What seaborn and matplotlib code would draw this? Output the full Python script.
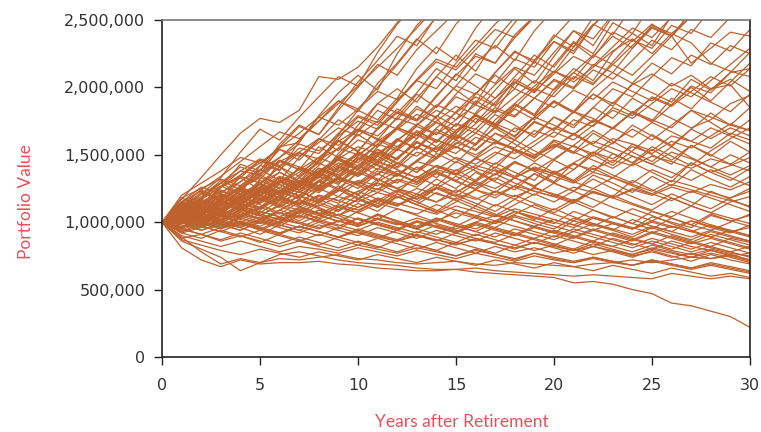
import pandas as pd
import matplotlib
matplotlib.use('Agg')
import matplotlib.pyplot as plt
import seaborn as sns
from matplotlib.ticker import FuncFormatter

# simulated portfolio paths, values in thousands, years 0..30
years = list(range(31))

path_01 = [1000,1170,1330,1500,1660,1770,1740,1830,2080,2060,2150,2300,2480,2650,2800,2950,3100,3200,3300,3400,3500,3600,3700,3800,3900,4000,4100,4200,4300,4400,4500]
path_02 = [1000,1090,1210,1330,1520,1690,1610,1780,1930,2080,2010,2260,2470,2620,2780,2900,3050,3100,3250,3400,3500,3650,3700,3850,4000,4100,4250,4300,4450,4600,4700]
path_03 = [1000,1150,1080,1260,1380,1350,1560,1590,1790,1960,2090,1980,2250,2460,2610,2750,2900,3000,3150,3300,3400,3500,3650,3800,3900,4000,4100,4200,4300,4400,4500]
path_04 = [1000,1060,1180,1290,1210,1420,1560,1710,1650,1850,2040,2200,2380,2310,2530,2650,2800,2950,3100,3200,3300,3450,3550,3700,3800,3900,4000,4100,4200,4300,4400]
path_05 = [1000,1120,1240,1160,1350,1460,1380,1600,1780,1900,1820,2030,2180,2360,2250,2470,2620,2700,2800,2950,3050,3200,3300,3400,3500,3600,3700,3800,3900,4000,4100]
path_06 = [1000,1040,1130,1260,1330,1240,1450,1520,1430,1650,1830,1760,1920,2140,2300,2200,2440,2620,2700,2850,2950,3050,3150,3250,3350,3450,3550,3650,3750,3850,3950]
path_07 = [1000,1080,990,1150,1270,1390,1310,1480,1620,1530,1720,1880,1990,1890,2080,2240,2120,2350,2520,2630,2750,2850,2950,3050,3150,3250,3350,3450,3550,3650,3750]
path_08 = [1000,1030,1110,1050,1190,1280,1410,1340,1450,1600,1690,1610,1780,1950,1850,2010,2180,2310,2200,2420,2580,2700,2800,2900,3000,3100,3200,3300,3400,3500,3600]
path_09 = [1000,1100,1180,1310,1240,1380,1540,1460,1610,1760,1680,1880,1810,1960,2140,2050,2250,2180,2390,2530,2660,2800,2900,3000,3100,3200,3300,3400,3500,3600,3700]
path_10 = [1000,960,1060,1150,1080,1220,1330,1260,1400,1340,1490,1610,1540,1720,1830,1760,1950,2090,1990,2200,2340,2250,2460,2620,2750,2900,3000,3100,3200,3300,3400]
path_11 = [1000,1070,1020,1120,1230,1160,1290,1400,1330,1470,1390,1560,1690,1620,1790,1710,1900,1820,2030,2190,2110,2300,2470,2390,2600,2720,2850,2950,3050,3150,3250]
path_12 = [1000,1050,1160,1080,1180,1290,1210,1330,1440,1370,1520,1450,1600,1730,1650,1820,1960,1870,2060,1980,2170,2340,2250,2480,2400,2620,2750,2850,2950,3050,3150]
path_13 = [1000,1020,970,1080,1170,1110,1230,1170,1310,1250,1370,1490,1410,1560,1480,1650,1580,1760,1880,1800,1990,2140,2050,2260,2400,2310,2530,2650,2800,2950,3050]
path_14 = [1000,1130,1060,1210,1150,1320,1460,1390,1560,1480,1670,1830,1760,1920,2080,1980,1880,2110,2270,2180,2390,2300,2520,2650,2800,2900,3000,3100,3200,3300,3400]
path_15 = [1000,1060,1140,1240,1170,1310,1250,1410,1330,1510,1650,1560,1710,1860,1770,1620,1810,1980,2140,2030,2230,2420,2310,2530,2660,2800,2900,3000,3100,3200,3300]
path_16 = [1000,1180,1120,1260,1430,1380,1580,1720,1650,1830,2000,2170,2090,2280,2420,2560,2700,2800,2900,3000,3100,3200,3300,3400,3500,3600,3700,3800,3900,4000,4100]
path_17 = [1000,1090,1040,1190,1120,1260,1370,1300,1460,1610,1520,1700,1840,1760,1930,2100,2010,1920,2080,2240,2150,2330,2220,2410,2340,2470,2380,2560,2680,2800,2900]
path_18 = [1000,1020,1100,1190,1130,1240,1180,1310,1260,1400,1520,1460,1610,1550,1700,1810,1740,1890,2040,1960,2120,2060,2230,2380,2290,2460,2400,2520,2650,2750,2850]
path_19 = [1000,1050,1120,1060,1170,1280,1210,1330,1270,1410,1350,1490,1620,1540,1690,1620,1770,1700,1870,1790,1960,2110,2030,2170,2090,2230,2380,2180,2290,2410,2380]
path_20 = [1000,1010,1080,1170,1100,1200,1310,1240,1340,1280,1420,1540,1470,1590,1520,1680,1800,1720,1630,1780,1900,1820,1990,2110,2030,2180,2100,2240,2170,2310,2250]
path_21 = [1000,1080,1030,1130,1240,1170,1280,1220,1360,1480,1400,1540,1460,1620,1740,1660,1800,1730,1880,2010,2120,2040,2150,2270,2360,2250,2400,2330,2180,2120,2080]
path_22 = [1000,990,1070,1020,1120,1230,1160,1260,1370,1300,1420,1350,1480,1600,1520,1640,1570,1710,1640,1780,1900,1820,1950,1860,2030,1960,1890,2060,1980,2110,2140]
path_23 = [1000,1040,990,1090,1040,1150,1260,1190,1300,1240,1370,1310,1440,1370,1510,1440,1580,1700,1610,1750,1680,1820,1740,1890,1810,1750,1920,1840,1990,2060,1970]
path_24 = [1000,1100,1220,1160,1260,1200,1330,1270,1400,1330,1470,1390,1540,1680,1590,1730,1660,1800,1720,1630,1780,1700,1850,1770,1920,1840,1770,1700,1760,1880,1940]
path_25 = [1000,1030,1120,1190,1130,1230,1300,1240,1350,1420,1510,1440,1560,1650,1560,1680,1790,1710,1840,1760,1890,1810,1950,1880,2020,2100,2010,2090,1990,2020,1850]
path_26 = [1000,1030,1090,1040,1140,1090,1190,1140,1250,1190,1300,1240,1360,1300,1420,1350,1480,1400,1540,1470,1600,1520,1660,1580,1720,1640,1560,1690,1620,1700,1640]
path_27 = [1000,950,1040,990,1080,1170,1110,1200,1140,1240,1170,1290,1220,1340,1270,1390,1310,1440,1370,1310,1460,1390,1520,1440,1580,1500,1430,1570,1500,1430,1520]
path_28 = [1000,1070,1010,1090,1170,1100,1200,1130,1250,1320,1250,1360,1290,1410,1330,1450,1380,1310,1450,1380,1300,1440,1370,1510,1440,1370,1300,1440,1370,1420,1480]
path_29 = [1000,1020,1090,1160,1100,1190,1130,1230,1160,1270,1200,1320,1250,1210,1320,1250,1370,1300,1240,1360,1290,1230,1350,1290,1220,1340,1270,1390,1320,1260,1340]
path_30 = [1000,1120,1070,1160,1250,1190,1300,1240,1360,1460,1390,1510,1430,1560,1480,1610,1530,1660,1580,1500,1560,1650,1570,1510,1440,1560,1490,1420,1530,1620,1700]
path_31 = [1000,940,1010,970,1050,1000,1090,1040,1130,1080,1170,1110,1210,1150,1250,1190,1290,1220,1330,1260,1380,1310,1420,1350,1290,1390,1330,1440,1370,1310,1400]
path_32 = [1000,1050,1000,960,1040,1110,1060,1150,1100,1050,1140,1080,1190,1130,1080,1180,1120,1230,1170,1260,1200,1150,1250,1190,1310,1240,1180,1120,1230,1170,1110]
path_33 = [1000,1080,1160,1100,1190,1140,1230,1310,1250,1340,1270,1220,1310,1260,1370,1300,1250,1360,1290,1230,1190,1140,1230,1180,1130,1080,1040,1120,1070,1030,990]
path_34 = [1000,1000,1070,1020,1100,1050,1000,1080,1030,1120,1070,1020,1100,1050,1000,1090,1040,1130,1080,1030,990,1080,1030,990,950,1040,1000,960,1050,1010,970]
path_35 = [1000,1130,1070,1010,1090,1180,1120,1060,1150,1250,1180,1120,1210,1150,1090,1030,1120,1060,1010,960,920,1010,970,1040,990,950,1030,980,940,1000,1060]
path_36 = [1000,960,1030,990,940,1010,970,1050,1000,950,1030,980,940,1010,970,920,1000,960,1040,990,950,1030,980,940,1020,970,930,1010,960,920,980]
path_37 = [1000,1040,1110,1190,1260,1200,1140,1230,1170,1110,1200,1140,1230,1170,1260,1200,1140,1080,1170,1110,1060,1010,1090,1040,990,1080,1030,980,1060,1010,1050]
path_38 = [1000,1060,1130,1200,1140,1220,1300,1240,1330,1410,1340,1430,1360,1290,1380,1310,1240,1330,1260,1200,1290,1230,1320,1250,1190,1130,1210,1150,1100,1180,1230]
path_39 = [1000,1010,980,1050,1120,1070,1160,1110,1190,1140,1230,1170,1120,1210,1150,1240,1180,1120,1200,1140,1090,1170,1110,1200,1140,1090,1180,1120,1070,1150,1190]
path_40 = [1000,980,940,1000,960,910,980,940,900,960,920,880,940,900,860,920,880,850,910,870,830,890,850,820,870,840,800,850,810,780,820]
path_41 = [1000,1010,970,930,990,950,910,970,930,890,950,910,870,930,890,850,910,870,830,880,840,800,860,820,780,830,790,760,800,770,750]
path_42 = [1000,920,880,940,900,850,910,870,830,890,850,810,870,830,790,850,810,770,830,790,830,790,840,800,760,810,780,740,790,760,720]
path_43 = [1000,1060,1020,980,940,1000,960,920,980,940,900,960,920,880,940,900,860,920,880,840,900,860,820,880,840,800,860,820,790,750,710]
path_44 = [1000,900,860,820,860,820,780,820,800,770,810,780,750,790,760,730,770,740,710,750,720,700,730,700,680,720,690,660,690,660,630]
path_45 = [1000,870,830,790,760,800,770,740,780,750,720,760,730,700,740,710,680,720,690,660,700,670,640,680,650,620,660,630,600,620,590]
path_46 = [1000,950,910,870,920,880,840,890,850,810,860,820,780,830,790,750,800,760,720,770,730,700,740,710,680,720,690,660,700,670,640]
path_47 = [1000,1030,990,950,1000,960,920,970,930,890,940,900,860,910,870,830,880,840,800,850,810,770,820,780,740,790,750,710,760,720,690]
path_48 = [1000,1090,1050,1010,1070,1030,990,1050,1010,970,1030,990,950,1010,970,930,990,950,910,970,930,890,950,910,870,930,890,850,910,870,830]
path_49 = [1000,1000,960,1020,980,1040,1000,960,1020,980,940,1000,960,920,980,940,900,960,920,880,940,900,860,920,880,840,900,860,820,880,850]
path_50 = [1000,810,720,670,720,690,700,700,710,690,680,660,650,640,640,650,630,620,610,600,590,550,560,540,500,470,400,380,340,300,220]
path_51 = [1000,860,800,740,640,700,760,780,750,720,700,690,680,660,650,650,660,640,630,620,610,600,610,600,590,580,620,600,580,600,580]
path_52 = [1000,890,780,690,730,700,730,720,740,760,730,720,700,690,700,710,690,680,700,690,680,670,690,700,720,700,720,740,730,750,770]
path_53 = [1000,1070,1150,1090,1030,1110,1190,1120,1060,1000,1080,1160,1240,1170,1250,1340,1270,1360,1450,1380,1470,1570,1490,1590,1690,1610,1720,1830,1740,1650,1760]
path_54 = [1000,1110,1190,1270,1200,1130,1070,1010,1090,1030,980,1060,1000,950,1030,980,930,1000,1080,1020,1100,1040,990,940,890,960,910,870,930,890,860]
path_55 = [1000,1040,1000,1080,1160,1250,1180,1270,1360,1290,1390,1320,1250,1190,1280,1220,1310,1410,1340,1440,1370,1300,1400,1330,1430,1540,1460,1570,1490,1600,1520]
path_56 = [1000,990,1060,1140,1080,1020,1090,1170,1110,1050,990,1060,1010,960,1020,970,1040,990,1060,1130,1070,1150,1090,1030,1100,1050,990,940,890,940,900]
path_57 = [1000,1150,1230,1170,1260,1350,1280,1220,1310,1400,1500,1420,1350,1450,1550,1470,1400,1500,1610,1530,1460,1570,1680,1600,1520,1450,1560,1480,1410,1500,1440]
path_58 = [1000,1020,1100,1050,990,940,1000,1070,1150,1090,1170,1250,1190,1130,1220,1160,1100,1050,1130,1210,1150,1230,1170,1110,1060,1010,1080,1030,980,930,890]
path_59 = [1000,930,990,1060,1000,950,1010,1080,1020,1090,1170,1110,1190,1130,1070,1150,1240,1180,1270,1360,1290,1390,1500,1420,1530,1650,1570,1690,1810,1720,1850]
path_60 = [1000,1100,1050,1130,1210,1290,1370,1300,1240,1330,1420,1520,1440,1370,1470,1580,1690,1610,1530,1450,1550,1660,1580,1700,1820,1740,1870,2000,1900,2040,2180]
path_61 = [1000,1120,1210,1180,1300,1420,1390,1510,1470,1620,1780,1720,1890,2050,1990,2180,2350,2290,2480,2650,2800,2950,3050,3150,3250,3350,3450,3550,3650,3750,3850]
path_62 = [1000,1050,1010,1110,1200,1280,1230,1350,1480,1600,1530,1690,1820,1760,1940,2090,2230,2180,2370,2520,2680,2800,2900,3000,3100,3200,3300,3400,3500,3600,3700]
path_63 = [1000,1080,1170,1260,1340,1290,1410,1550,1510,1660,1790,1740,1900,2060,2210,2150,2310,2470,2610,2750,2850,2950,3050,3150,3250,3350,3450,3550,3650,3750,3850]
path_64 = [1000,990,1050,1140,1230,1200,1310,1260,1370,1490,1440,1580,1700,1650,1780,1930,1870,2020,2150,2090,2260,2420,2360,2540,2680,2800,2900,3000,3100,3200,3300]
path_65 = [1000,1100,1060,1170,1250,1340,1460,1410,1360,1490,1610,1560,1700,1840,1780,1950,2100,2030,2210,2150,2340,2270,2460,2600,2750,2850,2950,3050,3150,3250,3350]
path_66 = [1000,1030,1100,1070,1150,1240,1330,1290,1400,1350,1460,1580,1530,1650,1600,1730,1690,1830,1780,1920,2060,2000,2170,2110,2290,2440,2380,2560,2700,2800,2900]
path_67 = [1000,1150,1260,1210,1330,1460,1410,1300,1420,1550,1690,1640,1770,1720,1860,2010,1950,2110,2260,2200,2370,2530,2680,2800,2900,3000,3100,3200,3300,3400,3500]
path_68 = [1000,1060,1130,1210,1160,1250,1200,1290,1380,1470,1420,1520,1470,1590,1540,1660,1790,1720,1850,1990,1930,2080,2020,2190,2350,2290,2460,2400,2580,2700,2800]
path_69 = [1000,1010,1090,1050,1130,1100,1190,1280,1230,1330,1290,1400,1350,1460,1560,1510,1630,1580,1700,1650,1780,1720,1850,1990,1930,2080,2220,2160,2330,2270,2430]
path_70 = [1000,1070,1150,1230,1180,1260,1220,1310,1270,1370,1480,1430,1540,1490,1610,1560,1480,1600,1550,1680,1630,1760,1710,1850,1790,1930,1870,2010,1960,2110,2260]
path_71 = [1000,1040,1120,1090,1180,1140,1240,1200,1300,1390,1340,1450,1400,1520,1470,1590,1540,1660,1610,1740,1690,1820,1770,1690,1820,1760,1700,1830,1780,1720,1680]
path_72 = [1000,1090,1060,1150,1110,1200,1160,1260,1220,1320,1280,1380,1340,1450,1410,1360,1470,1430,1540,1490,1610,1560,1510,1620,1580,1530,1640,1600,1550,1660,1610]
path_73 = [1000,1020,1080,1140,1090,1160,1230,1180,1260,1330,1280,1360,1440,1390,1480,1560,1500,1590,1540,1480,1570,1510,1600,1550,1490,1430,1520,1470,1410,1350,1420]
path_74 = [1000,1110,1170,1120,1190,1260,1210,1290,1240,1330,1280,1240,1320,1280,1360,1310,1400,1350,1440,1390,1340,1290,1370,1330,1280,1230,1310,1270,1220,1180,1250]
path_75 = [1000,970,1020,1080,1050,1110,1170,1130,1200,1160,1230,1290,1250,1320,1390,1350,1420,1380,1330,1400,1360,1430,1390,1460,1420,1490,1450,1400,1470,1430,1380]
path_76 = [1000,1060,1030,1000,1060,1020,1090,1160,1120,1190,1150,1220,1180,1250,1210,1170,1240,1200,1270,1230,1190,1260,1220,1180,1250,1210,1280,1240,1200,1160,1120]
path_77 = [1000,1030,990,1040,1000,1060,1020,990,1050,1110,1070,1140,1100,1060,1130,1090,1050,1010,1080,1040,1000,960,1030,990,950,1010,970,930,980,940,900]
path_78 = [1000,950,910,960,1010,970,1030,990,950,1010,970,1030,990,950,1010,1070,1030,990,1050,1010,970,930,990,950,910,970,930,890,940,900,860]
path_79 = [1000,1080,1040,1000,960,1020,980,940,1000,1060,1020,980,940,1000,960,920,980,940,900,960,920,880,940,900,860,920,880,840,880,840,800]
path_80 = [1000,930,970,930,890,940,900,860,910,870,830,880,840,800,850,810,770,820,780,810,770,800,760,790,750,780,740,770,730,760,720]
path_81 = [1000,1020,1090,1050,1120,1080,1040,1110,1070,1030,990,1050,1010,970,1030,990,950,1010,970,930,890,950,910,870,830,880,840,800,850,810,770]
path_82 = [1000,1140,1090,1040,1110,1060,1020,1090,1050,1010,970,1030,990,950,910,970,930,890,950,910,870,930,890,850,810,860,820,780,820,780,740]
path_83 = [1000,880,910,860,900,860,820,860,820,790,830,800,770,810,780,750,790,760,730,770,740,710,740,710,680,710,680,650,680,650,620]
path_84 = [1000,960,1000,960,1000,960,920,970,930,890,930,890,860,900,870,840,870,840,810,850,820,790,820,790,760,800,770,740,770,740,700]
path_85 = [1000,1050,1120,1080,1150,1220,1180,1130,1200,1160,1110,1180,1140,1100,1060,1120,1080,1040,1100,1060,1020,980,1040,1000,960,920,970,930,890,850,810]
path_86 = [1000,1180,1250,1320,1270,1360,1450,1390,1480,1420,1360,1450,1390,1330,1420,1360,1300,1390,1330,1270,1360,1300,1250,1330,1270,1210,1160,1230,1180,1130,1080]
path_87 = [1000,1130,1210,1290,1380,1470,1420,1520,1620,1570,1680,1620,1560,1670,1610,1550,1660,1600,1540,1480,1580,1520,1460,1400,1490,1430,1370,1310,1390,1330,1270]
path_88 = [1000,1090,1170,1260,1350,1440,1540,1490,1590,1700,1640,1750,1690,1800,1740,1680,1790,1730,1670,1780,1720,1650,1760,1700,1630,1740,1670,1600,1700,1640,1580]
path_89 = [1000,1060,1140,1220,1300,1390,1480,1580,1530,1640,1750,1690,1810,1750,1870,1810,1930,1860,1990,1920,1850,1980,1910,2040,1970,1900,2030,1960,1890,1820,1950]
path_90 = [1000,1200,1290,1380,1480,1440,1550,1660,1780,1720,1840,1970,1910,2050,2190,2130,2280,2430,2370,2530,2680,2800,2900,3000,3100,3200,3300,3400,3500,3600,3700]
path_91 = [1000,1140,1240,1340,1450,1560,1670,1620,1750,1880,2010,2150,2290,2440,2600,2750,2900,3000,3100,3200,3300,3400,3500,3600,3700,3800,3900,4000,4100,4200,4300]
path_92 = [1000,1080,1180,1290,1410,1360,1480,1610,1750,1900,1840,2000,2170,2350,2520,2700,2850,3000,3100,3200,3300,3400,3500,3600,3700,3800,3900,4000,4100,4200,4300]
path_93 = [1000,1010,1060,1020,1090,1050,1130,1090,1170,1250,1210,1300,1380,1330,1420,1380,1470,1560,1510,1600,1700,1650,1750,1700,1810,1920,1860,1970,2080,2010,2140]
path_94 = [1000,960,1010,1060,1020,1080,1040,1100,1060,1130,1090,1160,1120,1190,1260,1220,1300,1250,1330,1410,1360,1440,1520,1470,1560,1510,1600,1550,1640,1730,1680]
path_95 = [1000,920,960,1010,970,1020,1070,1030,1090,1050,1110,1170,1130,1190,1150,1210,1170,1230,1190,1250,1210,1160,1220,1180,1240,1200,1260,1220,1280,1240,1300]
path_96 = [1000,1000,940,980,1030,990,1040,1000,960,1010,970,1020,980,1030,990,950,1000,1050,1010,970,1020,980,940,990,950,1000,960,1010,970,930,960]
path_97 = [1000,1070,1140,1100,1180,1260,1340,1290,1380,1470,1560,1510,1610,1710,1650,1760,1870,1810,1930,2050,1980,2110,2240,2170,2310,2450,2380,2530,2680,2800,2900]
path_98 = [1000,1040,1100,1170,1250,1330,1290,1370,1460,1550,1500,1600,1700,1640,1750,1860,1800,1920,2040,1970,2100,2230,2160,2300,2440,2370,2520,2650,2800,2900,3000]
path_99 = [1000,1110,1070,1160,1250,1200,1300,1390,1340,1440,1390,1500,1610,1550,1670,1610,1730,1850,1790,1920,2050,1990,2130,2060,2200,2350,2280,2430,2370,2520,2650]
path_100 = [1000,1030,970,1020,1090,1050,1120,1190,1150,1230,1310,1270,1350,1300,1390,1480,1430,1520,1470,1570,1670,1610,1720,1830,1770,1880,1990,1930,2050,2170,2290]

paths = [path_01, path_02, path_03, path_04, path_05, path_06, path_07, path_08, path_09, path_10,
         path_11, path_12, path_13, path_14, path_15, path_16, path_17, path_18, path_19, path_20,
         path_21, path_22, path_23, path_24, path_25, path_26, path_27, path_28, path_29, path_30,
         path_31, path_32, path_33, path_34, path_35, path_36, path_37, path_38, path_39, path_40,
         path_41, path_42, path_43, path_44, path_45, path_46, path_47, path_48, path_49, path_50,
         path_51, path_52, path_53, path_54, path_55, path_56, path_57, path_58, path_59, path_60,
         path_61, path_62, path_63, path_64, path_65, path_66, path_67, path_68, path_69, path_70,
         path_71, path_72, path_73, path_74, path_75, path_76, path_77, path_78, path_79, path_80,
         path_81, path_82, path_83, path_84, path_85, path_86, path_87, path_88, path_89, path_90,
         path_91, path_92, path_93, path_94, path_95, path_96, path_97, path_98, path_99, path_100]

rows = []
for i, p in enumerate(paths):
    for yr, v in zip(years, p):
        rows.append({'sim': i, 'year': yr, 'value': v * 1000})
df = pd.DataFrame(rows)

sns.set_style('white')
plt.rcParams['font.family'] = ['DejaVu Sans']

fig = plt.figure(figsize=(7.61, 4.32), dpi=100)
ax = fig.add_axes([0.2129, 0.1736, 0.7726, 0.7801])

sns.lineplot(data=df, x='year', y='value', units='sim', estimator=None,
             color='#BF612C', linewidth=0.9, ax=ax, legend=False)

ax.set_xlim(0, 30)
ax.set_ylim(0, 2500000)
ax.set_xticks([0, 5, 10, 15, 20, 25, 30])
ax.set_yticks([0, 500000, 1000000, 1500000, 2000000, 2500000])
ax.yaxis.set_major_formatter(FuncFormatter(lambda v, p: f'{int(v):,}'))

ax.tick_params(axis='both', direction='out', length=6, width=1, color='#222222',
               labelcolor='#333333', labelsize=11.5, left=True, bottom=True)
ax.tick_params(axis='x', pad=9)
ax.tick_params(axis='y', pad=6)

for s in ['left', 'bottom', 'right']:
    ax.spines[s].set_color('#222222')
    ax.spines[s].set_linewidth(1.2)
ax.spines['top'].set_color('#777777')
ax.spines['top'].set_linewidth(1.2)

ax.set_xlabel('Years after Retirement', color='#E8505B', fontsize=12.5,
              family=['Lato', 'DejaVu Sans'])
ax.set_ylabel('Portfolio Value', color='#E8505B', fontsize=12.5,
              family=['Lato', 'DejaVu Sans'])
ax.xaxis.set_label_coords(0.51, -0.17)
ax.yaxis.set_label_coords(-0.218, 0.461)

fig.savefig('out.png', dpi=100)
